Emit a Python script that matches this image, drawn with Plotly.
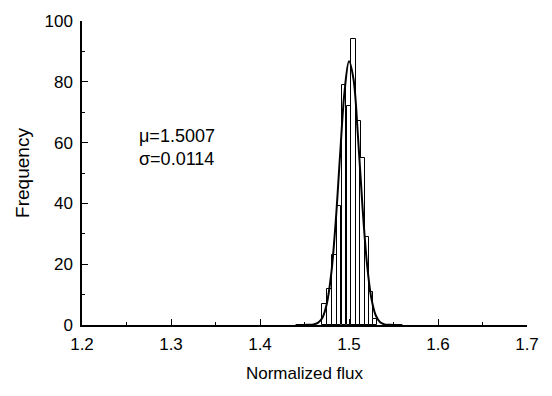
import plotly.graph_objects as go

# Histogram bins (centres) and counts
bin_centers = [1.4728, 1.4784, 1.4836, 1.4887, 1.4943, 1.5000, 1.5054, 1.5107, 1.5155, 1.5202, 1.5247, 1.5292]
counts = [7, 12, 23, 39, 79, 72, 94, 67, 55, 29, 11, 2]
bin_width = 0.0052

# Fitted normal curve
curve_x = [1.440, 1.450, 1.455, 1.460, 1.465, 1.470, 1.475, 1.480, 1.485, 1.490, 1.495, 1.500,
           1.505, 1.510, 1.515, 1.520, 1.525, 1.530, 1.535, 1.540, 1.545, 1.550, 1.560]
curve_y = [0, 0, 0.1, 0.2, 0.7, 2.3, 6.9, 16.7, 33.7, 56.0, 76.8, 86.8,
           81.0, 62.4, 39.6, 20.8, 9.0, 3.2, 0.9, 0.2, 0.1, 0, 0]

x_ticks = [1.2, 1.3, 1.4, 1.5, 1.6, 1.7]
y_ticks = [0, 20, 40, 60, 80, 100]

FONT = "Liberation Sans, Arial, sans-serif"

fig = go.Figure()
fig.add_trace(go.Bar(
    x=bin_centers, y=counts, width=bin_width,
    marker=dict(color="white", line=dict(color="black", width=1)),
    showlegend=False,
))
fig.add_trace(go.Scatter(
    x=curve_x, y=curve_y, mode="lines",
    line=dict(color="black", width=2, shape="spline"),
    showlegend=False,
))

fig.add_annotation(
    x=0.124, y=0.585, xref="paper", yref="paper", xanchor="left", yanchor="middle",
    text="μ=1.5007<br>σ=0.0114", showarrow=False, align="left",
    font=dict(family=FONT, size=18, color="black"),
)

fig.update_layout(
    width=552, height=396,
    margin=dict(l=82, r=25, t=14, b=71),
    paper_bgcolor="white", plot_bgcolor="white",
    font=dict(family=FONT, size=16, color="black"),
    bargap=0,
)
fig.update_xaxes(
    range=[1.2, 1.7], tickvals=x_ticks, ticktext=[f"{v:.1f}" for v in x_ticks],
    showgrid=False, zeroline=False, showline=True, linecolor="black", linewidth=1.5,
    ticks="inside", ticklen=6, tickcolor="black", tickwidth=1.2,
    minor=dict(dtick=0.05, tick0=1.2, ticks="inside", ticklen=3, tickcolor="black"),
    title=dict(text="Normalized flux", font=dict(size=17), standoff=14),
    tickfont=dict(size=17), ticklabelstandoff=3,
)
fig.update_yaxes(
    range=[0, 100], tickvals=y_ticks,
    showgrid=False, zeroline=False, showline=True, linecolor="black", linewidth=1.5,
    ticks="inside", ticklen=6, tickcolor="black", tickwidth=1.2,
    minor=dict(dtick=10, ticks="inside", ticklen=3, tickcolor="black"),
    title=dict(text="Frequency", font=dict(size=19), standoff=10),
    tickfont=dict(size=17), ticklabelstandoff=4,
)

fig.write_html("out.html")
